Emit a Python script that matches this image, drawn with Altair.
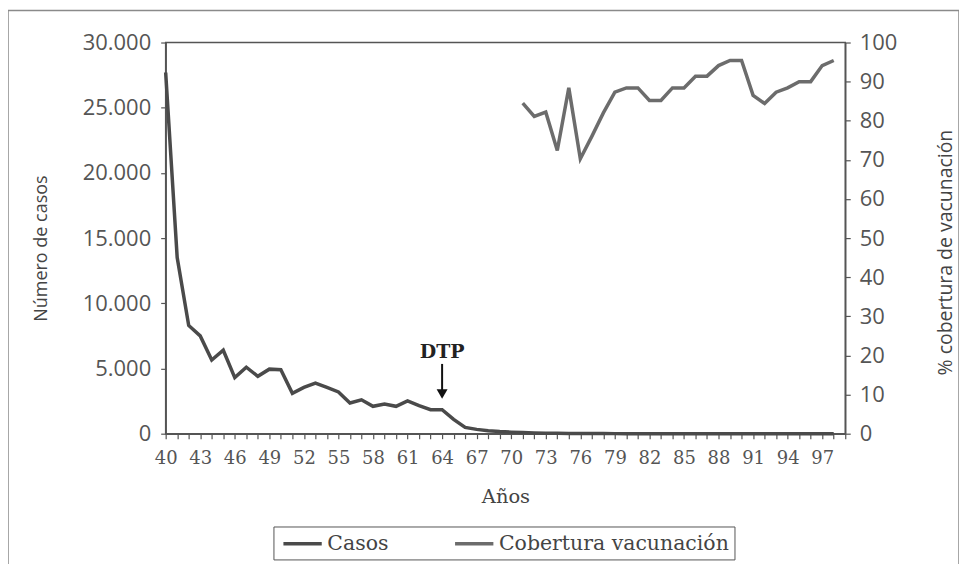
import altair as alt
import pandas as pd

# ---- data ----
years = list(range(40, 99))
casos = [27700, 13500, 8300, 7500, 5650, 6400, 4300, 5100, 4400, 4950,
         4900, 3100, 3550, 3880, 3550, 3200, 2350, 2600, 2100, 2270,
         2100, 2520, 2150, 1840, 1840, 1100, 480, 330, 220, 160,
         120, 90, 60, 40, 30, 20, 15, 10, 8, 5,
         2, 1, 0, 0, 0, 0, 0, 0, 0, 0,
         0, 0, 0, 0, 0, 0, 0, 0, 0]
cob_years = list(range(71, 99))
cobertura = [84.5, 81.1, 82.2, 72.4, 88.4, 70.3, 76.0, 82.0, 87.3, 88.4,
             88.4, 85.2, 85.2, 88.4, 88.4, 91.4, 91.4, 94.1, 95.4, 95.4,
             86.5, 84.4, 87.3, 88.4, 90.0, 90.0, 94.1, 95.4]
series = ["Casos", "Cobertura vacunación"]
series_colors = ["#4a4a4a", "#6c6c6c"]
x_ticks = list(range(40, 100))
y_left_ticks = list(range(0, 30001, 5000))
y_right_ticks = list(range(0, 101, 10))
dtp_label = "DTP"
dtp_year = 64
dtp_text_y = 6250
arrow_top = 5350
arrow_head = 3050

df_c = pd.DataFrame({"anio": years, "valor": casos, "serie": series[0]})
df_v = pd.DataFrame({"anio": cob_years, "valor": cobertura, "serie": series[1]})
ann = pd.DataFrame({"anio": [dtp_year], "t": [dtp_text_y], "a1": [arrow_top],
                    "a2": [arrow_head], "lab": [dtp_label]})

GREY = "#555555"

x_scale = alt.Scale(domain=[40, 99], nice=False, zero=False)
x_axis = alt.Axis(
    title="Años",
    values=x_ticks,
    labelExpr="(datum.value - 40) % 3 == 0 ? '' + datum.value : ''",
    labelOverlap=False,
    labelFlush=False,
    labelFont="DejaVu Serif",
    labelFontSize=18,
    labelColor=GREY,
    labelPadding=11,
    tickSize=5,
    titleFont="DejaVu Serif",
    titleFontSize=19.5,
    titleFontWeight="normal",
    titleColor="#444444",
    titlePadding=20,
)

yl_scale = alt.Scale(domain=[0, 30000], nice=False)
yl_axis = alt.Axis(
    title="Número de casos",
    orient="left",
    values=y_left_ticks,
    labelExpr="replace(format(datum.value, ','), ',', '.')",
    labelFont="Open Sans",
    labelFontSize=22,
    labelColor=GREY,
    labelPadding=10,
    tickSize=5,
    titleFont="Open Sans",
    titleFontSize=18,
    titleFontWeight="normal",
    titleColor="#444444",
    titlePadding=32,
    titleY=206,
)

yr_scale = alt.Scale(domain=[0, 100], nice=False)
yr_axis = alt.Axis(
    title="% cobertura de vacunación",
    orient="right",
    values=y_right_ticks,
    labelFont="Open Sans",
    labelFontSize=22,
    labelColor=GREY,
    labelPadding=9,
    tickSize=5,
    titleFont="Open Sans",
    titleFontSize=19.5,
    titleFontWeight="normal",
    titleColor="#444444",
    titleAngle=270,
    titlePadding=59,
    titleY=210,
)

color_enc = alt.Color(
    "serie:N",
    scale=alt.Scale(domain=series, range=series_colors),
    legend=alt.Legend(
        title=None,
        orient="none",
        legendX=108,
        legendY=485,
        direction="horizontal",
        strokeColor=GREY,
        padding=5,
        symbolType="M-0.7,0H3.14",
        symbolSize=400,
        symbolStrokeWidth=3.5,
        labelFont="DejaVu Serif",
        labelFontSize=20.5,
        labelColor="#444444",
        labelLimit=400,
        labelOffset=25,
        columnPadding=59,
    ),
)


def X(field):
    return alt.X(field, scale=x_scale, axis=x_axis)


def YL(field):
    return alt.Y(field, scale=yl_scale, axis=yl_axis)


border = alt.Chart(pd.DataFrame({"k": [0]})).mark_rect(
    filled=False, stroke="#8a8a8a", strokeWidth=1.5
).encode(
    x=alt.value(-158), x2=alt.value(795), y=alt.value(-32), y2=alt.value(560)
)

line_c = alt.Chart(df_c).mark_line(strokeWidth=3.5).encode(
    x=X("anio:Q"), y=YL("valor:Q"), color=color_enc
)

rule = alt.Chart(ann).mark_rule(color="#111111", strokeWidth=2).encode(
    x=X("anio:Q"), y=YL("a1:Q"), y2="a2:Q"
)
head = alt.Chart(ann).mark_point(
    shape="triangle-down", filled=True, size=120, color="#111111", opacity=1
).encode(x=X("anio:Q"), y=YL("a2:Q"))
text = alt.Chart(ann).mark_text(
    font="DejaVu Serif", fontWeight="bold", fontSize=19, color="#222222"
).encode(x=X("anio:Q"), y=YL("t:Q"), text="lab:N")

inner = alt.layer(border, line_c, rule, head, text)

line_v = alt.Chart(df_v).mark_line(strokeWidth=3.5).encode(
    x=X("anio:Q"),
    y=alt.Y("valor:Q", scale=yr_scale, axis=yr_axis),
    color=color_enc,
)

chart = (
    alt.layer(inner, line_v)
    .resolve_scale(y="independent")
    .properties(
        width=681,
        height=392,
        autosize="none",
        padding={"left": 158, "top": 34, "right": 114, "bottom": 130},
        background="white",
    )
    .configure_view(stroke=GREY, strokeWidth=1.5)
    .configure_axis(
        grid=False,
        domainColor=GREY,
        domainWidth=1.5,
        tickColor=GREY,
        tickWidth=1.2,
    )
)

chart.save("out.html", embed_options={"renderer": "svg", "actions": False})
